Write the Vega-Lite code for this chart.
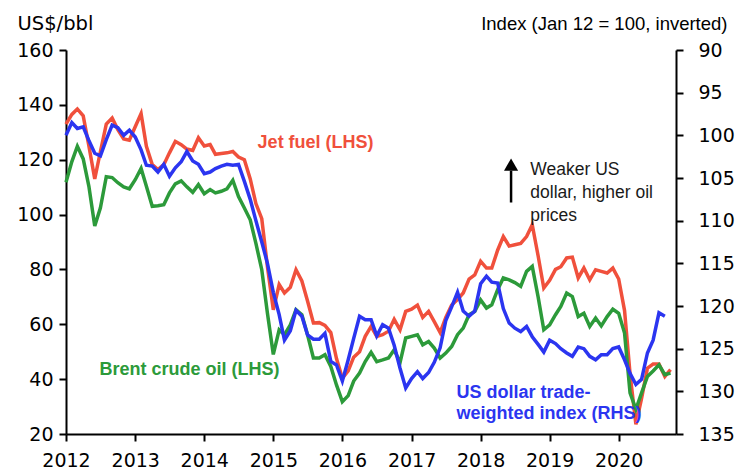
{
  "$schema": "https://vega.github.io/schema/vega-lite/v6.json",
  "width": 610,
  "height": 384,
  "autosize": {"type": "none"},
  "padding": {"left": 66, "top": 50, "right": 60, "bottom": 36},
  "config": {
    "view": {"stroke": null},
    "axis": {
      "domainColor": "#000000", "domainWidth": 2, "tickColor": "#000000", "tickWidth": 2, "tickSize": 7,
      "grid": false, "labelColor": "#000000", "labelFont": "DejaVu Sans", "labelFontSize": 19,
      "titleColor": "#000000", "labelFlush": false, "labelOverlap": false
    }
  },
  "datasets": {
    "s": [
      {"d": "2012-01-01", "jet": 133, "brent": 111.8, "usd": 100},
      {"d": "2012-02-01", "jet": 136.5, "brent": 119.3, "usd": 98.5},
      {"d": "2012-03-01", "jet": 138.5, "brent": 124.9, "usd": 99.2},
      {"d": "2012-04-01", "jet": 136, "brent": 120.3, "usd": 99},
      {"d": "2012-05-01", "jet": 125, "brent": 110.3, "usd": 100.6},
      {"d": "2012-06-01", "jet": 113, "brent": 95.8, "usd": 102.1},
      {"d": "2012-07-01", "jet": 123, "brent": 102.5, "usd": 102.4},
      {"d": "2012-08-01", "jet": 133, "brent": 113.8, "usd": 100.5},
      {"d": "2012-09-01", "jet": 135.2, "brent": 113.5, "usd": 98.8},
      {"d": "2012-10-01", "jet": 131, "brent": 111.6, "usd": 99.1},
      {"d": "2012-11-01", "jet": 127.6, "brent": 110.1, "usd": 100},
      {"d": "2012-12-01", "jet": 127.1, "brent": 109.4, "usd": 99.4},
      {"d": "2013-01-01", "jet": 132, "brent": 112.7, "usd": 100.2},
      {"d": "2013-02-01", "jet": 136.8, "brent": 116.8, "usd": 101.7},
      {"d": "2013-03-01", "jet": 124.9, "brent": 110.3, "usd": 103.5},
      {"d": "2013-04-01", "jet": 118.2, "brent": 103, "usd": 103.6},
      {"d": "2013-05-01", "jet": 116.4, "brent": 103.2, "usd": 104.3},
      {"d": "2013-06-01", "jet": 118.2, "brent": 103.6, "usd": 103.4},
      {"d": "2013-07-01", "jet": 122.5, "brent": 107.9, "usd": 104.8},
      {"d": "2013-08-01", "jet": 126.7, "brent": 111.2, "usd": 103.8},
      {"d": "2013-09-01", "jet": 125.5, "brent": 112.3, "usd": 103.1},
      {"d": "2013-10-01", "jet": 123.9, "brent": 110.1, "usd": 101.9},
      {"d": "2013-11-01", "jet": 123.4, "brent": 108.1, "usd": 103},
      {"d": "2013-12-01", "jet": 128, "brent": 110.9, "usd": 103.4},
      {"d": "2014-01-01", "jet": 125, "brent": 107.6, "usd": 104.5},
      {"d": "2014-02-01", "jet": 125.5, "brent": 109.1, "usd": 104.3},
      {"d": "2014-03-01", "jet": 122, "brent": 107.9, "usd": 103.9},
      {"d": "2014-04-01", "jet": 122.3, "brent": 108.5, "usd": 103.6},
      {"d": "2014-05-01", "jet": 122.5, "brent": 109.4, "usd": 103.4},
      {"d": "2014-06-01", "jet": 123, "brent": 112.5, "usd": 103.5},
      {"d": "2014-07-01", "jet": 121, "brent": 106.6, "usd": 103.4},
      {"d": "2014-08-01", "jet": 120, "brent": 102.4, "usd": 105.4},
      {"d": "2014-09-01", "jet": 113, "brent": 98.1, "usd": 107.5},
      {"d": "2014-10-01", "jet": 104, "brent": 89.5, "usd": 110},
      {"d": "2014-11-01", "jet": 98.5, "brent": 79.9, "usd": 112.5},
      {"d": "2014-12-01", "jet": 81, "brent": 64, "usd": 115},
      {"d": "2015-01-01", "jet": 65.3, "brent": 49, "usd": 118.4},
      {"d": "2015-02-01", "jet": 74.5, "brent": 58, "usd": 121},
      {"d": "2015-03-01", "jet": 71.4, "brent": 56.2, "usd": 124},
      {"d": "2015-04-01", "jet": 73.5, "brent": 59.8, "usd": 122.9},
      {"d": "2015-05-01", "jet": 79.9, "brent": 65.3, "usd": 120.5},
      {"d": "2015-06-01", "jet": 75.8, "brent": 63.5, "usd": 121.2},
      {"d": "2015-07-01", "jet": 68.5, "brent": 56.2, "usd": 123.4},
      {"d": "2015-08-01", "jet": 60.5, "brent": 47.7, "usd": 123.9},
      {"d": "2015-09-01", "jet": 60.6, "brent": 47.7, "usd": 123.9},
      {"d": "2015-10-01", "jet": 59.6, "brent": 48.9, "usd": 123.2},
      {"d": "2015-11-01", "jet": 57, "brent": 44.6, "usd": 126.5},
      {"d": "2015-12-01", "jet": 47.5, "brent": 37.9, "usd": 126.9},
      {"d": "2016-01-01", "jet": 40.3, "brent": 31.8, "usd": 128.8},
      {"d": "2016-02-01", "jet": 43, "brent": 34, "usd": 126.3},
      {"d": "2016-03-01", "jet": 48, "brent": 39.3, "usd": 123.8},
      {"d": "2016-04-01", "jet": 50, "brent": 42.2, "usd": 121.2},
      {"d": "2016-05-01", "jet": 55.6, "brent": 46.4, "usd": 121.6},
      {"d": "2016-06-01", "jet": 59.2, "brent": 49.8, "usd": 121.6},
      {"d": "2016-07-01", "jet": 55.6, "brent": 46.4, "usd": 123.5},
      {"d": "2016-08-01", "jet": 56.2, "brent": 47, "usd": 122.2},
      {"d": "2016-09-01", "jet": 57.5, "brent": 47.7, "usd": 122.6},
      {"d": "2016-10-01", "jet": 61.8, "brent": 50.7, "usd": 124.6},
      {"d": "2016-11-01", "jet": 58, "brent": 46, "usd": 127.3},
      {"d": "2016-12-01", "jet": 64.7, "brent": 55, "usd": 129.6},
      {"d": "2017-01-01", "jet": 65.5, "brent": 55.6, "usd": 128.5},
      {"d": "2017-02-01", "jet": 67, "brent": 56.2, "usd": 127.7},
      {"d": "2017-03-01", "jet": 62.5, "brent": 52.5, "usd": 128.5},
      {"d": "2017-04-01", "jet": 64.7, "brent": 53.7, "usd": 127.8},
      {"d": "2017-05-01", "jet": 61, "brent": 51.3, "usd": 126.6},
      {"d": "2017-06-01", "jet": 57, "brent": 47.7, "usd": 124.9},
      {"d": "2017-07-01", "jet": 62.5, "brent": 49.5, "usd": 121.7},
      {"d": "2017-08-01", "jet": 67, "brent": 51.9, "usd": 120.1},
      {"d": "2017-09-01", "jet": 69, "brent": 56.2, "usd": 118.4},
      {"d": "2017-10-01", "jet": 71.4, "brent": 58.6, "usd": 120.6},
      {"d": "2017-11-01", "jet": 76.5, "brent": 63.5, "usd": 121.2},
      {"d": "2017-12-01", "jet": 78, "brent": 64.7, "usd": 120.6},
      {"d": "2018-01-01", "jet": 83, "brent": 68.9, "usd": 117.4},
      {"d": "2018-02-01", "jet": 80.5, "brent": 65.9, "usd": 116.5},
      {"d": "2018-03-01", "jet": 80.5, "brent": 67.1, "usd": 117.2},
      {"d": "2018-04-01", "jet": 87, "brent": 72.6, "usd": 117.3},
      {"d": "2018-05-01", "jet": 92, "brent": 76.9, "usd": 120.3},
      {"d": "2018-06-01", "jet": 88.5, "brent": 76.2, "usd": 122},
      {"d": "2018-07-01", "jet": 89, "brent": 75.2, "usd": 122.6},
      {"d": "2018-08-01", "jet": 89.5, "brent": 73.8, "usd": 123},
      {"d": "2018-09-01", "jet": 92, "brent": 79.3, "usd": 122.4},
      {"d": "2018-10-01", "jet": 96.3, "brent": 81.1, "usd": 123.6},
      {"d": "2018-11-01", "jet": 85, "brent": 70, "usd": 124.5},
      {"d": "2018-12-01", "jet": 73.2, "brent": 58, "usd": 125.4},
      {"d": "2019-01-01", "jet": 76, "brent": 59.8, "usd": 124},
      {"d": "2019-02-01", "jet": 80, "brent": 63.5, "usd": 124.4},
      {"d": "2019-03-01", "jet": 81, "brent": 66.5, "usd": 125},
      {"d": "2019-04-01", "jet": 84.2, "brent": 71.4, "usd": 125.5},
      {"d": "2019-05-01", "jet": 84.5, "brent": 70.1, "usd": 125.9},
      {"d": "2019-06-01", "jet": 76.9, "brent": 62.8, "usd": 124.8},
      {"d": "2019-07-01", "jet": 80.5, "brent": 64, "usd": 125},
      {"d": "2019-08-01", "jet": 76.2, "brent": 59.2, "usd": 125.9},
      {"d": "2019-09-01", "jet": 79.9, "brent": 62.3, "usd": 126.3},
      {"d": "2019-10-01", "jet": 79.3, "brent": 59.4, "usd": 125.7},
      {"d": "2019-11-01", "jet": 78.7, "brent": 62.8, "usd": 125.7},
      {"d": "2019-12-01", "jet": 80.5, "brent": 65.5, "usd": 125},
      {"d": "2020-01-01", "jet": 76.5, "brent": 64, "usd": 124.8},
      {"d": "2020-02-01", "jet": 65, "brent": 56.8, "usd": 126.3},
      {"d": "2020-03-01", "jet": 42, "brent": 35, "usd": 127.9},
      {"d": "2020-04-01", "jet": 23.5, "brent": 29, "usd": 129.2},
      {"d": "2020-05-01", "jet": 33, "brent": 35, "usd": 128.6},
      {"d": "2020-06-01", "jet": 44, "brent": 41, "usd": 125.5},
      {"d": "2020-07-01", "jet": 45.5, "brent": 43, "usd": 124},
      {"d": "2020-08-01", "jet": 45.5, "brent": 45.2, "usd": 120.8},
      {"d": "2020-09-01", "jet": 41, "brent": 41.6, "usd": 121.2},
      {"d": "2020-10-01", "jet": 43.5, "brent": 42.2, "usd": null}
    ]
  },
  "layer": [
    {
      "layer": [
        {
          "data": {"name": "s"},
          "mark": {"type": "line", "color": "#F0503C", "strokeWidth": 3.5},
          "encoding": {
            "x": {
              "field": "d", "type": "temporal",
              "scale": {"type": "utc", "domain": [{"year": 2012, "month": 1, "date": 1, "utc": true}, {"year": 2020, "month": 10, "date": 30, "utc": true}]},
              "axis": {
                "title": null, "format": "%Y", "labelPadding": 10,
                "values": [
                  {"year": 2012, "utc": true}, {"year": 2013, "utc": true}, {"year": 2014, "utc": true},
                  {"year": 2015, "utc": true}, {"year": 2016, "utc": true}, {"year": 2017, "utc": true},
                  {"year": 2018, "utc": true}, {"year": 2019, "utc": true}, {"year": 2020, "utc": true}
                ]
              }
            },
            "y": {
              "field": "jet", "type": "quantitative",
              "scale": {"domain": [20, 160], "zero": false, "nice": false},
              "axis": {
                "values": [20, 40, 60, 80, 100, 120, 140, 160], "labelPadding": 6,
                "title": "US$/bbl", "titleAngle": 0, "titleAlign": "left", "titleBaseline": "alphabetic",
                "titleX": -49, "titleY": -20.5, "titleFont": "DejaVu Sans", "titleFontSize": 19.5, "titleFontWeight": "normal"
              }
            }
          }
        },
        {
          "data": {"name": "s"},
          "mark": {"type": "line", "color": "#2C9A3A", "strokeWidth": 3.5},
          "encoding": {
            "x": {"field": "d", "type": "temporal"},
            "y": {"field": "brent", "type": "quantitative"}
          }
        },
        {
          "data": {"values": [{"d": "2014-10-10", "v": 124.4, "t": "Jet fuel (LHS)"}]},
          "mark": {"type": "text", "align": "left", "baseline": "alphabetic", "font": "Liberation Sans", "fontSize": 18, "fontWeight": "bold", "color": "#F0503C"},
          "encoding": {
            "x": {"field": "d", "type": "temporal"},
            "y": {"field": "v", "type": "quantitative"},
            "text": {"field": "t"}
          }
        },
        {
          "data": {"values": [{"d": "2012-06-26", "v": 41.5, "t": "Brent crude oil (LHS)"}]},
          "mark": {"type": "text", "align": "left", "baseline": "alphabetic", "font": "Liberation Sans", "fontSize": 18, "fontWeight": "bold", "color": "#2C9A3A"},
          "encoding": {
            "x": {"field": "d", "type": "temporal"},
            "y": {"field": "v", "type": "quantitative"},
            "text": {"field": "t"}
          }
        },
        {
          "data": {"values": [{"d": "2017-08-26", "v": 33.25, "t": "US dollar trade-\nweighted index (RHS)"}]},
          "mark": {"type": "text", "align": "left", "baseline": "alphabetic", "lineBreak": "\n", "lineHeight": 21.6, "font": "Liberation Sans", "fontSize": 18, "fontWeight": "bold", "color": "#2B35F0"},
          "encoding": {
            "x": {"field": "d", "type": "temporal"},
            "y": {"field": "v", "type": "quantitative"},
            "text": {"field": "t"}
          }
        },
        {
          "data": {"values": [{"d": "2018-09-21", "v": 114.55, "t": "Weaker US\ndollar, higher oil\nprices"}]},
          "mark": {"type": "text", "align": "left", "baseline": "alphabetic", "lineBreak": "\n", "lineHeight": 23, "font": "Liberation Sans", "fontSize": 17.5, "color": "#1a1a1a"},
          "encoding": {
            "x": {"field": "d", "type": "temporal"},
            "y": {"field": "v", "type": "quantitative"},
            "text": {"field": "t"}
          }
        },
        {
          "data": {"values": [{"d": "2018-06-11", "v": 104.4, "v2": 116}]},
          "mark": {"type": "rule", "color": "#000000", "strokeWidth": 2.5},
          "encoding": {
            "x": {"field": "d", "type": "temporal"},
            "y": {"field": "v", "type": "quantitative"},
            "y2": {"field": "v2"}
          }
        },
        {
          "data": {"values": [{"d": "2018-06-11", "v": 118.2}]},
          "mark": {"type": "point", "shape": "triangle-up", "filled": true, "color": "#000000", "size": 200, "opacity": 1},
          "encoding": {
            "x": {"field": "d", "type": "temporal"},
            "y": {"field": "v", "type": "quantitative"}
          }
        }
      ]
    },
    {
      "data": {"name": "s"},
      "mark": {"type": "line", "color": "#2B35F0", "strokeWidth": 3.5},
      "encoding": {
        "x": {"field": "d", "type": "temporal"},
        "y": {
          "field": "usd", "type": "quantitative",
          "scale": {"domain": [90, 135], "reverse": true, "zero": false, "nice": false},
          "axis": {
            "orient": "right", "values": [90, 95, 100, 105, 110, 115, 120, 125, 130, 135], "labelPadding": 15,
            "title": "Index (Jan 12 = 100, inverted)", "titleAngle": 0, "titleAlign": "right", "titleBaseline": "alphabetic",
            "titleX": 51, "titleY": -21, "titleFont": "Liberation Sans", "titleFontSize": 18.5, "titleFontWeight": "normal"
          }
        }
      }
    }
  ],
  "resolve": {"scale": {"y": "independent"}}
}
